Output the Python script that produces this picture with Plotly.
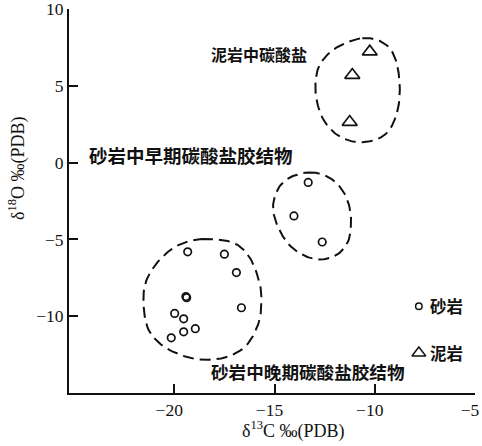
import numpy as np
import plotly.graph_objects as go

# δ13C / δ18O values (‰ PDB)
sand_c = [-19.33, -17.5, -16.9, -19.42, -19.38, -16.65, -19.98, -19.53, -18.95, -19.53, -20.15,
          -13.32, -14.03, -12.62]
sand_o = [-5.81, -5.96, -7.16, -8.72, -8.80, -9.45, -9.82, -10.17, -10.81, -11.02, -11.41,
          -1.29, -3.47, -5.17]
mud_c = [-10.25, -11.12, -11.25]
mud_o = [7.22, 5.70, 2.64]

# hand-drawn grouping outlines (control points, closed)
late_c = [-18.62, -17.12, -16.29, -15.79, -15.65, -15.79, -16.37, -17.29, -18.45, -19.45,
          -20.54, -21.29, -21.54, -21.37, -20.70, -19.79]
late_o = [-4.98, -5.19, -6.07, -7.60, -8.91, -10.43, -11.85, -12.62, -12.84, -12.62,
          -11.96, -10.87, -9.12, -7.60, -6.29, -5.37]
early_c = [-13.29, -12.29, -11.54, -11.20, -11.29, -11.87, -12.79, -13.79, -14.54, -15.04,
           -14.95, -14.37]
early_o = [-0.64, -0.96, -1.94, -3.36, -5.0, -5.98, -6.31, -5.87, -4.89, -3.36,
           -2.05, -1.07]
mudg_c = [-10.62, -9.54, -8.95, -8.75, -8.95, -9.54, -10.62, -11.70, -12.54, -12.95,
          -12.79, -11.95]
mudg_o = [8.10, 7.77, 6.68, 4.72, 2.97, 1.77, 1.33, 1.66, 2.75, 4.50, 6.24, 7.45]

x_ticks = [-20, -15, -10, -5]
y_ticks = [-10, -5, 0, 5, 10]

group_labels = ["泥岩中碳酸盐", "砂岩中早期碳酸盐胶结物", "砂岩中晚期碳酸盐胶结物"]
group_lab_x = [-15.75, -19.16, -13.31]
group_lab_y = [7.07, 0.52, -13.62]
group_lab_size = [16, 18.5, 17.6]

key_names = ["砂岩", "泥岩"]
key_x = [-7.8, -7.8]
key_y = [-9.36, -12.4]

CJK = "Noto Sans CJK SC"
SERIF = "Liberation Serif"
BLACK = "#111111"


def closed_curve(px, py, steps=12):
    """Smooth closed outline through the control points (periodic Catmull-Rom)."""
    p = np.column_stack([px, py])
    n = len(p)
    t = np.linspace(0, 1, steps, endpoint=False)[:, None]
    out = []
    for i in range(n):
        p0, p1, p2, p3 = p[i - 1], p[i], p[(i + 1) % n], p[(i + 2) % n]
        seg = 0.5 * ((2 * p1) + (-p0 + p2) * t + (2 * p0 - 5 * p1 + 4 * p2 - p3) * t ** 2
                     + (-p0 + 3 * p1 - 3 * p2 + p3) * t ** 3)
        out.append(seg)
    out.append(p[:1])
    c = np.vstack(out)
    return c[:, 0], c[:, 1]


fig = go.Figure()

for cx, cy in [(late_c, late_o), (early_c, early_o), (mudg_c, mudg_o)]:
    sx, sy = closed_curve(cx, cy)
    fig.add_trace(go.Scatter(
        x=sx, y=sy, mode="lines",
        line=dict(color=BLACK, width=2, dash="11px,6px"),
        hoverinfo="skip", showlegend=False))

fig.add_trace(go.Scatter(
    x=sand_c, y=sand_o, mode="markers", name="砂岩",
    marker=dict(symbol="circle-open", size=7.5, color=BLACK, line=dict(width=1.7)),
    showlegend=False))
fig.add_trace(go.Scatter(
    x=mud_c, y=mud_o, mode="markers", name="泥岩",
    marker=dict(symbol="triangle-up-open", size=13, color=BLACK, line=dict(width=1.7)),
    showlegend=False))

# key markers and names
fig.add_trace(go.Scatter(
    x=[key_x[0]], y=[key_y[0]], mode="markers",
    marker=dict(symbol="circle-open", size=6.5, color=BLACK, line=dict(width=1.5)),
    showlegend=False, hoverinfo="skip"))
fig.add_trace(go.Scatter(
    x=[key_x[1]], y=[key_y[1]], mode="markers",
    marker=dict(symbol="triangle-up-open", size=12, color=BLACK, line=dict(width=1.5)),
    showlegend=False, hoverinfo="skip"))
for name, kx, ky in zip(key_names, key_x, key_y):
    fig.add_annotation(x=kx, y=ky, text=name, showarrow=False, xanchor="left", xshift=9,
                       font=dict(family=CJK, size=16.5, color=BLACK, weight="bold"))

for t, gx, gy, s in zip(group_labels, group_lab_x, group_lab_y, group_lab_size):
    fig.add_annotation(x=gx, y=gy, text=t, showarrow=False,
                       font=dict(family=CJK, size=s, color=BLACK, weight="bold"))

# axis titles
fig.add_annotation(xref="paper", yref="paper", x=0.552, y=-0.097, yanchor="middle",
                   text="δ<sup>13</sup>C ‰(PDB)", showarrow=False,
                   font=dict(family=SERIF, size=18, color=BLACK))
fig.add_annotation(xref="paper", yref="paper", x=-0.128, y=0.586, xanchor="center",
                   text="δ<sup>18</sup>O ‰(PDB)", showarrow=False, textangle=-90,
                   font=dict(family=SERIF, size=18, color=BLACK))

axis_common = dict(showgrid=False, zeroline=False, showline=True, linecolor=BLACK, linewidth=2,
                   ticks="inside", ticklen=9, tickwidth=1.5, tickcolor=BLACK,
                   ticklabeloverflow="allow", automargin=False,
                   tickfont=dict(family=SERIF, size=17.5, color=BLACK), mirror=False)

fig.update_layout(
    width=482, height=446,
    margin=dict(l=69, r=7, t=9, b=53, autoexpand=False),
    paper_bgcolor="white", plot_bgcolor="white",
    xaxis=dict(range=[-25.25, -5], tickvals=x_ticks, ticklabelshift=-5,
               ticktext=["−20", "−15", "−10", "−5"], **axis_common),
    yaxis=dict(range=[-15, 10], tickvals=y_ticks,
               ticktext=["−10", "−5", "0", "5", "10"], **axis_common),
)

fig.write_html("out.html")
